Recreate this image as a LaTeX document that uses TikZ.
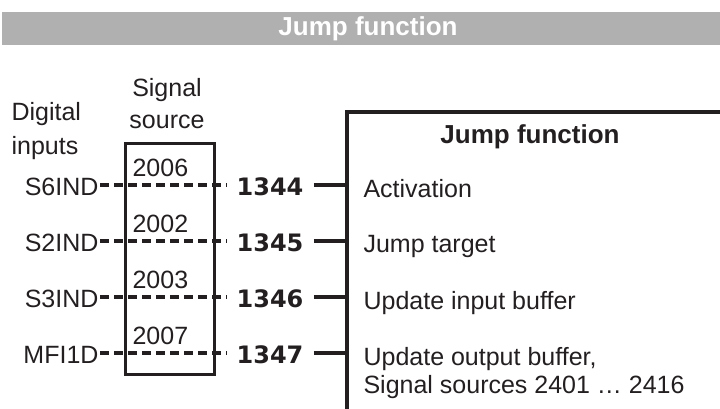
\documentclass[tikz,border=0pt]{standalone}
\usepackage{fontspec}
\setmainfont{Liberation Sans}
\newfontfamily\numfont{DejaVu Sans}
\usetikzlibrary{positioning,calc}
\definecolor{bargray}{HTML}{B0B0B0}
\definecolor{ink}{HTML}{231F20}

\begin{document}
\begin{tikzpicture}[x=1pt,y=-1pt,line width=3.1pt,ink,
 txt/.style={inner sep=0pt,font=\fontsize{25}{30}\selectfont},
 head/.style={inner sep=0pt,font=\fontsize{26}{30}\selectfont\bfseries},
 num/.style={inner xsep=9pt,inner ysep=0pt,font=\fontsize{24}{30}\selectfont\numfont\bfseries},
 sig/.style={dash pattern=on 9pt off 5pt}]
\useasboundingbox (0,0) rectangle (720,409);
\node[fill=bargray,minimum width=720pt,minimum height=33pt,inner sep=0pt,anchor=north west] (bar) at (0,10) {};
\node[head,text=white,anchor=base] (bartitle) at (368,36) {Jump function};
\node[txt,align=left,anchor=north west,font=\fontsize{25}{34}\selectfont] (din) at (10,101) {Digital\\inputs};
\node[txt,align=center,anchor=north,font=\fontsize{25}{32}\selectfont] (ssrc) at (167,77) {Signal\\source};
\node[draw,minimum width=89pt,minimum height=231pt,inner sep=0pt,anchor=north west] (srcbox) at (124,142) {};
% function block, open to the right and below
\coordinate (ftop) at (347,112);
\draw (347,409) -- (ftop) -- (720,112);
\node[head,anchor=base] (ftitle) at (530,143) {Jump function};
\foreach \y/\inp/\ssn/\pno/\func [count=\i] in {185/S6IND/2006/1344/Activation,
  241/S2IND/2002/1345/Jump target,
  297/S3IND/2003/1346/Update input buffer,
  353/MFI1D/2007/1347/{Update output buffer,\\Signal sources 2401 … 2416}} {
  \coordinate (row\i) at (0,\y);
  \node[txt,anchor=base east] (in\i) at (100,\y+10) {\inp};
  \node[txt,anchor=base west] (src\i) at (131,\y-9) {\ssn};
  \node[num,anchor=base] (pn\i) at (270,\y+10) {\pno};
  \node[txt,align=left,anchor=north west,font=\fontsize{25}{28}\selectfont] (fn\i) at (362,\y-7) {\func};
  \draw[sig] (in\i.east |- row\i) -- (pn\i.west |- row\i);
  \draw (pn\i.east |- row\i) -- (ftop |- row\i);
}
\end{tikzpicture}
\end{document}
